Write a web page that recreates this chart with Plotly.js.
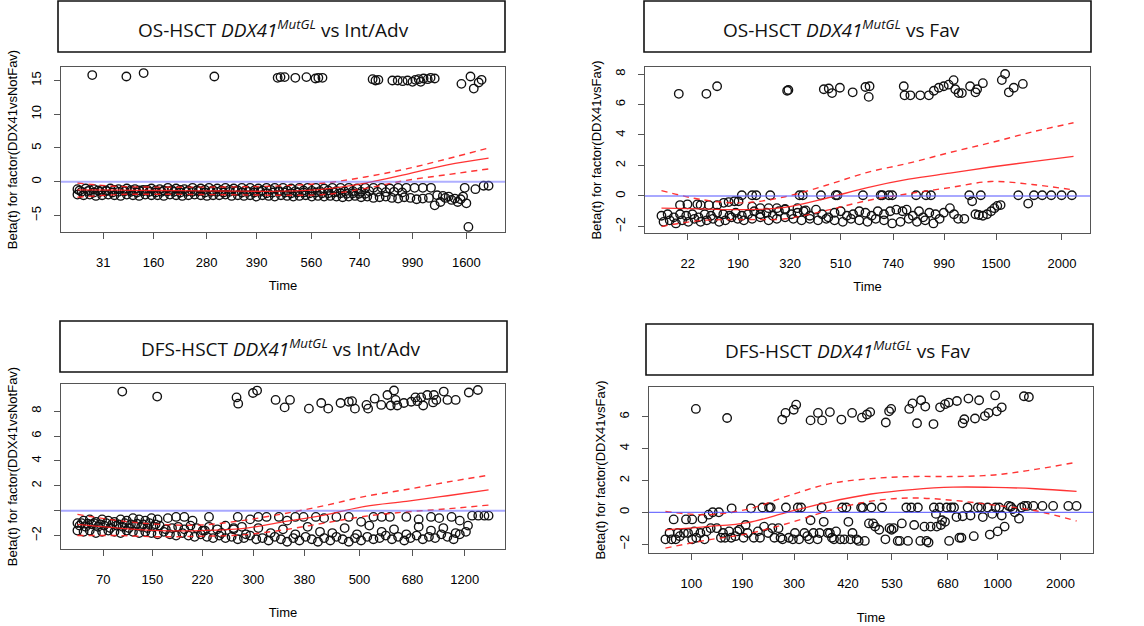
<!DOCTYPE html>
<html><head><meta charset="utf-8">
<script src="https://cdn.plot.ly/plotly-3.0.1.min.js"></script>
<style>html,body{margin:0;padding:0;background:#fff}#chart{width:1144px;height:626px}</style>
</head><body><div id="chart"></div>
<script>
// x values are the transformed (Kaplan-Meier scaled, 0-100) event times used by cox.zph plots
// ---------------- Panel 1: OS-HSCT DDX41 vs Int/Adv ----------------
const p1TickPos = [6.3,18.5,31.4,43.6,56.9,68.6,81.5,94.6];
const p1TickLab = ['31','160','280','390','560','740','990','1600'];
const p1HighT = [3.6,11.9,16.1,33.3,48.7,49.4,50.4,53.0,55.7,57.9,58.6,59.6,71.8,72.5,73.2,76.6,77.9,79.1,80.3,81.5,82.2,83.0,83.5,84.2,85.2,85.9,86.9,93.4,95.6,96.4,97.6,98.3];
const p1HighB = [15.8,15.6,16.1,15.6,15.4,15.5,15.5,15.4,15.5,15.3,15.4,15.4,15.2,15.0,15.1,15.0,15.0,14.9,15.0,14.8,15.1,15.2,14.8,15.3,15.2,15.4,15.3,14.5,15.6,13.8,14.7,15.1];
const p1LowT = [0,2,4,6,8,10,12,14,16,18,20,22,24,26,28,30,32,34,36,38,40,42,44,46,48,50,52,54,56,58,60,62,64,66,68,70,72,74,76,78,80,82,84,86,
 1,2.5,4,5.5,7,8.5,10,11.5,13,14.5,16,17.5,19,20.5,22,23.5,25,26.5,28,29.5,31,32.5,34,35.5,37,38.5,40,41.5,43,44.5,46,47.5,49,50.5,52,53.5,55,56.5,58,59.5,61,62.5,64,65.5,67,68.5,70,
 0,1.5,3,4.5,6,7.5,9,10.5,12,13.5,15,16.5,18,19.5,21,22.5,24,25.5,27,28.5,30,31.5,33,34.5,36,37.5,39,40.5,42,43.5,45,46.5,48,49.5,51,52.5,54,55.5,57,58.5,60,61.5,63,64.5,66,67.5,69,70.5,72,73.5,75,76.5,78,79.5,81,82.5,84,85.5,
 0.5,3,5,7,9,11,13,15,17,19,21,23,25,27,29,31,33,35,37,39,41,43,45,47,49,51,53,55,57,59,61,63,65,67,69,71,73,75,77,79,
 86.9,87.5,88.3,88.9,89.5,90.3,91.0,91.8,92.5,93.2,93.8,94.2,94.6,95.1,96.8,98.8,100];
const p1LowB = [-1.1,-1.0,-1.1,-1.2,-1.0,-1.1,-1.0,-1.1,-1.2,-1.0,-1.1,-0.9,-1.0,-1.1,-0.9,-1.0,-0.9,-1.0,-0.9,-1.0,-0.9,-0.9,-1.0,-0.9,-0.9,-0.9,-1.0,-0.9,-0.9,-0.9,-1.0,-0.9,-0.9,-0.9,-1.0,-0.9,-0.9,-0.9,-1.0,-0.9,-0.9,-0.9,-0.9,-0.9,
 -1.5,-1.4,-1.6,-1.5,-1.4,-1.6,-1.5,-1.4,-1.5,-1.6,-1.4,-1.5,-1.6,-1.5,-1.4,-1.5,-1.6,-1.5,-1.5,-1.4,-1.6,-1.5,-1.5,-1.6,-1.5,-1.4,-1.6,-1.5,-1.6,-1.5,-1.7,-1.6,-1.5,-1.6,-1.7,-1.6,-1.6,-1.7,-1.6,-1.7,-1.7,-1.6,-1.7,-1.8,-1.7,-1.8,-1.8,
 -1.9,-2.0,-1.9,-2.1,-2.0,-1.9,-2.0,-2.1,-1.9,-2.0,-2.1,-1.9,-2.0,-2.0,-2.1,-1.9,-2.0,-2.1,-2.0,-1.9,-2.0,-2.1,-2.0,-2.0,-1.9,-2.1,-2.0,-2.1,-2.0,-2.2,-2.0,-2.1,-2.2,-2.0,-2.1,-2.2,-2.1,-2.0,-2.2,-2.1,-2.2,-2.1,-2.2,-2.3,-2.2,-2.1,-2.3,-2.2,-2.4,-2.3,-2.2,-2.4,-2.5,-2.3,-2.4,-2.6,-2.5,-2.4,
 -1.3,-1.25,-1.3,-1.3,-1.2,-1.3,-1.25,-1.3,-1.2,-1.3,-1.3,-1.25,-1.2,-1.3,-1.3,-1.2,-1.25,-1.3,-1.2,-1.3,-1.25,-1.3,-1.3,-1.2,-1.35,-1.3,-1.4,-1.3,-1.35,-1.4,-1.3,-1.4,-1.45,-1.4,-1.5,-1.4,-1.5,-1.55,-1.5,-1.6,
 -3.5,-2.0,-3.0,-2.1,-2.4,-2.2,-2.7,-2.5,-3.0,-2.6,-2.2,-0.9,-3.2,-6.7,-1.1,-0.6,-0.6];
const fitT = [0,10,20,30,40,50,60,70,80,90,100];
const p1Fit = [-1.2,-1.25,-1.3,-1.35,-1.4,-1.4,-1.1,-0.2,1.1,2.5,3.5];
const p1Up  = [-0.2,-0.7,-0.8,-0.8,-0.75,-0.6,-0.2,0.7,1.9,3.4,5.0];
const p1Lo  = [-2.3,-1.9,-1.85,-1.9,-1.95,-2.0,-1.9,-1.0,0.2,1.05,1.9];

// ---------------- Panel 2: OS-HSCT DDX41 vs Fav ----------------
const p2TickPos = [6.4,18.6,31.2,43.5,56.2,68.6,81.2,97.2];
const p2TickLab = ['22','190','320','510','740','990','1500','2000'];
const p2HighT = [4.2,10.9,13.5,30.5,30.8,39.4,40.6,41.4,43.3,46.4,49.5,50.5,50.3,58.8,59.0,60.4,62.8,64.9,66.1,67.3,68.5,69.7,70.9,71.3,72.1,72.9,74.9,76.2,76.6,78.0,82.6,83.4,84.3,85.5,87.7];
const p2HighB = [6.7,6.7,7.2,6.9,6.95,7.0,7.05,6.75,7.1,6.8,7.15,7.2,6.5,7.2,6.6,6.6,6.6,6.6,6.9,7.1,7.2,7.3,7.6,7.0,6.75,6.75,7.2,6.8,7.0,7.4,7.6,8.0,6.8,7.1,7.35];
const p2LowT = [0,1.5,3,4.5,6,7.5,9,10.5,12,13.5,15,16.5,18,19.5,21,22.5,24,25.5,27,28.5,30,31.5,33,34.5,36,37.5,39,40.5,42,43.5,45,46.5,48,49.5,51,52.5,54,55.5,57,
 0.5,2,3.5,5,6.5,8,9.5,11,12.5,14,15.5,17,18.5,20,22,24,26,28,30,32,34,36,38,40,42,44,46,48,50,52,54,56,58,60,62,64,66,
 58.5,59.5,61,62.5,63.5,65,66.5,67.5,68.5,70,71,72,73.5,
 75.4,76.2,77,78,79,80,80.8,81.5,82.3,89,
 4.5,6.3,8.7,9.5,11.5,13.5,15.1,16.3,17.7,18.7,22,24,26,28,30,33,35,
 19.5,22,23,26.4,33.5,34.3,38.7,42.3,42.7,48.9,53.2,53.6,55.2,56,61.8,64.2,65.4,74.7,77.5,86.6,90.4,92.4,94.6,97.1,99.6];
const p2LowB = [-1.3,-1.2,-1.4,-1.2,-1.3,-1.2,-1.4,-1.2,-1.3,-1.1,-1.2,-1.3,-1.1,-1.3,-1.2,-1.0,-1.2,-1.1,-1.3,-1.0,-0.9,-1.2,-1.1,-1.0,-1.3,-0.9,-1.2,-1.4,-1.1,-1.0,-1.3,-1.2,-1.0,-1.1,-1.3,-1.0,-1.2,-1.0,-0.9,
 -1.7,-1.6,-1.8,-1.6,-1.7,-1.5,-1.7,-1.6,-1.5,-1.7,-1.6,-1.4,-1.5,-1.6,-1.5,-1.4,-1.6,-1.5,-1.4,-1.5,-1.6,-1.5,-1.6,-1.5,-1.6,-1.7,-1.5,-1.6,-1.7,-1.5,-1.6,-1.8,-1.7,-1.5,-1.7,-1.6,-1.8,
 -1.0,-0.9,-1.3,-1.0,-1.4,-1.1,-1.2,-1.5,-1.1,-0.8,-1.2,-1.5,-1.5,
 -0.35,-1.2,-1.25,-1.3,-1.2,-1.0,-0.8,-0.65,-0.6,-0.5,
 -0.6,-0.55,-0.55,-0.6,-0.6,-0.6,-0.45,-0.4,-0.35,-0.35,-0.7,-0.8,-0.8,-0.8,-0.85,-0.8,-0.95,
 0.05,0.05,0.05,0.05,0.05,0.05,0.05,0.05,0.05,0.05,0.05,0.05,0.05,0.05,0.05,0.05,0.05,0.05,0.05,0.05,0.05,0.05,0.05,0.05,0.05];
const p2Fit = [-0.8,-0.85,-0.9,-0.75,-0.15,0.55,1.1,1.5,1.9,2.25,2.6];
const p2Up  = [0.35,-0.25,-0.45,-0.05,0.7,1.55,2.15,2.85,3.5,4.2,4.8];
const p2Lo  = [-2.0,-1.6,-1.55,-1.5,-0.95,-0.3,0.15,0.55,0.95,0.75,0.4];

// ---------------- Panel 3: DFS-HSCT DDX41 vs Int/Adv ----------------
const p3TickPos = [6.3,18.2,30.4,42.8,55.2,68.6,81.5,94.2];
const p3TickLab = ['70','150','220','300','380','500','680','1200'];
const p3HighT = [10.9,19.4,38.7,39.1,42.7,43.7,48.2,50.4,51.7,56.3,59.3,61.0,64.0,66.0,66.8,67.5,70.3,70.7,72.3,73.9,75.4,76.2,77.0,77.4,77.8,79.4,81.2,82.2,82.7,83.6,84.1,85.1,86.5,86.7,87.3,89.1,90.0,92.0,95.2,97.4];
const p3HighB = [9.57,9.17,9.1,8.6,9.46,9.65,8.9,8.3,8.9,8.2,8.65,8.2,8.65,8.75,8.8,8.2,8.5,8.2,9.0,8.5,9.3,8.45,9.66,8.9,8.45,8.65,8.75,9.1,8.8,9.1,8.45,9.3,8.7,9.3,8.9,9.57,8.9,8.9,9.5,9.7];
const p3LowT = [0,1.5,3,4.5,6,7.5,9,10.5,12,13.5,15,16.5,18,19.5,
 22,24,26,28,32,39,42,44,46,49,51,53,55,58,60,63,66,69,72,74,76,80,83,86,88,91,93,96,97.5,99,100,
 0.5,2,3.5,5,6.5,8,9.5,11,12.5,14,15.5,17,18.5,20,21.5,23,24.5,26,27.5,29,30.5,32,34,36,38,40,
 0,1.5,3,4.5,6,7.5,9,10.5,12,13.5,15,16.5,18,19.5,21,22.5,24,25.5,27,28.5,30,31.5,33,34.5,36,37.5,39,40.5,42,43.5,45,46.5,48,49.5,51,52.5,54,55.5,57,58.5,60,61.5,63,64.5,66,67.5,69,70.5,72,73.5,75,76.5,78,79.5,81,82.5,84,85.5,87,88.5,90,91.5,93,94.5,
 31,35,38,41,44,47,50,53,56,59,62,65,68,71,74,77,80,83,86,89,92,95,
 1,2.5,4,5.5,7,8.5,10,11.5,13,14.5,16,17.5,19];
const p3LowB = [-1.0,-0.8,-0.7,-0.9,-0.7,-0.8,-0.9,-0.7,-0.8,-0.6,-0.7,-0.8,-0.6,-0.7,
 -0.6,-0.5,-0.5,-0.8,-0.5,-0.5,-0.7,-0.5,-0.5,-0.5,-0.8,-0.5,-0.5,-0.5,-0.6,-0.5,-0.5,-0.9,-0.5,-0.5,-0.5,-0.5,-0.7,-0.5,-0.6,-0.5,-0.8,-0.4,-0.4,-0.4,-0.4,
 -1.2,-1.3,-1.1,-1.3,-1.2,-1.4,-1.2,-1.3,-1.4,-1.2,-1.3,-1.4,-1.3,-1.2,-1.5,-1.4,-1.3,-1.5,-1.2,-1.4,-1.6,-1.3,-1.5,-1.2,-1.4,-1.3,
 -1.6,-1.7,-1.6,-1.8,-1.7,-1.6,-1.7,-1.8,-1.6,-1.7,-1.8,-1.7,-1.8,-1.9,-1.7,-1.9,-2.0,-1.8,-2.0,-2.1,-1.9,-2.1,-2.2,-2.0,-2.2,-2.1,-2.3,-2.2,-2.0,-2.3,-2.2,-2.4,-2.1,-2.3,-2.5,-2.2,-2.4,-2.1,-2.3,-2.5,-2.2,-2.4,-2.1,-2.3,-2.5,-2.2,-2.4,-2.1,-2.3,-2.2,-2.0,-2.3,-2.1,-2.4,-2.2,-2.0,-2.3,-2.1,-2.2,-1.9,-2.1,-2.3,-1.9,-1.7,
 -1.6,-1.8,-1.5,-1.9,-1.4,-1.8,-1.5,-1.9,-1.3,-1.7,-1.8,-1.4,-1.9,-1.2,-1.7,-1.5,-1.9,-1.3,-1.6,-1.4,-1.8,-1.2,
 -1.0,-1.05,-1.0,-1.1,-1.0,-1.05,-1.1,-1.0,-1.1,-1.05,-1.1,-1.0,-1.1];
const p3Fit = [-1.1,-1.4,-1.6,-1.6,-1.45,-0.9,-0.35,0.35,0.75,1.2,1.67];
const p3Up  = [-0.3,-0.8,-1.1,-1.15,-0.8,-0.25,0.4,1.15,1.7,2.3,2.85];
const p3Lo  = [-2.0,-2.0,-2.1,-2.05,-1.95,-1.55,-1.0,-0.45,-0.1,0.15,0.45];

// ---------------- Panel 4: DFS-HSCT DDX41 vs Fav ----------------
const p4TickPos = [6.3,18.7,31.3,44.4,55.1,68.7,80.8,96.1];
const p4TickLab = ['100','190','300','420','530','680','1000','2000'];
const p4HighT = [7.4,15.0,28.4,29.2,31.2,31.8,35.3,37.1,38.1,40.0,42.8,45.4,47.8,49.0,49.8,53.6,54.4,54.9,59.3,60.1,61.2,62.2,63.2,65.2,66.8,68.0,68.9,70.9,72.3,72.7,73.7,75.3,76.3,77.7,78.6,80.2,80.6,81.8,87.2,88.4];
const p4HighB = [6.5,5.93,5.83,6.25,6.45,6.77,5.78,6.25,5.78,6.3,5.83,6.25,5.95,6.15,6.3,5.65,6.35,6.5,6.5,6.85,5.6,7.05,6.65,5.55,6.6,6.8,6.9,7.0,5.6,5.85,7.15,5.9,7.05,6.05,6.25,7.35,6.35,6.6,7.3,7.25];
const p4LowT = [0,1.5,2.5,3.5,4.5,5.5,6.5,7.5,8.5,9.5,10,2,5,6.5,9,10.5,11.5,12.5,13,14,14.5,15.5,16.1,17,18,19,19.5,20.8,21.5,22.5,23.6,24,25.2,25.6,26.5,27.5,28.5,29.3,30,31,32.2,33,33.8,34.5,35.3,36,37,38,38.5,39.5,40.5,41.5,42.5,43,44,44.5,45.5,46.5,47.6,48,48.5,49.5,50.1,51,52,52.7,53.5,54.5,55.5,56.5,57.5,58.6,59.8,60.5,61.4,62,63,64,64.5,65.3,65.8,66.7,67.3,68.4,69,69.5,70.2,70.8,71.5,72.3,73.5,74.2,75,76,76.8,77.2,78.4,78.9,79.5,80.3,80.8,81.2,81.8,82.5,83.5,84,84.5,85,86,86.6,87.3,88,89.5,91.7,94.3,98,100,
 1,3,7,11,13.5,16,17.5,20,23,25,26,28,31.5,32.5,35,37.5,40,41,43.5,45,47,50.5,55,57,59,63.5,66,67,68,72];
const p4LowB = [-1.7,-1.7,-1.7,-1.5,-1.3,-1.3,-1.7,-1.6,-1.3,-1.7,-1.2,-0.45,-0.45,-0.45,-0.4,-0.15,0.0,-1.0,0.0,-1.3,-1.6,-1.2,0.25,-1.5,-1.1,-1.6,-0.8,0.25,-1.6,-1.2,0.3,-0.9,0.3,0.3,-1.6,-1.0,-1.7,0.3,-1.6,-1.7,0.3,0.3,-1.3,-1.5,-0.5,-1.3,-1.7,0.3,-0.6,-1.3,-1.6,-1.2,-1.7,0.3,0.3,-0.6,-1.3,-1.7,0.3,0.3,-1.8,-0.7,0.3,-0.9,-1.1,0.3,-1.7,-1.0,-1.0,-1.8,-0.7,0.3,0.3,-0.8,0.3,-1.8,-0.9,-1.9,-0.9,0.3,-0.1,0.3,-0.5,0.3,-1.8,0.3,0.3,-0.3,-1.6,-0.25,0.3,-0.2,-1.5,0.3,0.3,-0.3,0.3,-1.4,-0.1,0.3,-1.2,0.3,-0.2,-0.9,0.4,0.35,0.2,0.0,-0.4,0.3,0.4,0.4,0.4,0.4,0.4,0.4,0.4,
 -1.3,-1.3,-1.2,-1.0,-1.6,-1.6,-1.2,-1.3,-1.6,-1.3,-1.0,-1.6,-1.3,-1.7,-1.7,-1.3,-1.3,-1.7,-1.7,-1.7,-1.8,-0.7,-1.1,-1.8,-1.8,-1.8,-0.9,-0.8,-0.6,-1.6];
const p4Fit = [-1.1,-0.9,-0.65,0.03,0.66,1.15,1.43,1.58,1.57,1.48,1.32];
const p4Up  = [0.05,-0.15,0.2,1.05,1.8,2.12,2.25,2.25,2.35,2.7,3.15];
const p4Lo  = [-2.25,-1.75,-1.35,-0.68,0.12,0.7,0.9,0.75,0.45,0.1,-0.55];

// ---------------- layout helpers ----------------
const W = 1144, H = 626;
const fx = v => v / W, fy = v => 1 - v / H;
const axFont = {family: 'Liberation Sans, Arial, sans-serif', size: 13, color: '#000'};

const panels = [
  {title: 'OS-HSCT <i>DDX41</i><sup><i>MutGL</i></sup> vs Int/Adv', yTitle: 'Beta(t) for factor(DDX41vsNotFav)',
   hT: p1HighT, hB: p1HighB, lT: p1LowT, lB: p1LowB, fit: p1Fit, up: p1Up, lo: p1Lo,
   tickPos: p1TickPos, tickLab: p1TickLab, yTicks: [-5,0,5,10,15], yLabs: ['−5','0','5','10','15'],
   yRange: [-7.45, 17.0], box: [61,505,67,232], tbox: [58,505,1,52], tc: [273,29], xStand: 12,
   blue: ['rgba(110,110,255,0.55)', 2]},
  {title: 'OS-HSCT <i>DDX41</i><sup><i>MutGL</i></sup> vs Fav', yTitle: 'Beta(t) for factor(DDX41vsFav)',
   hT: p2HighT, hB: p2HighB, lT: p2LowT, lB: p2LowB, fit: p2Fit, up: p2Up, lo: p2Lo,
   tickPos: p2TickPos, tickLab: p2TickLab, yTicks: [-2,0,2,4,6,8], yLabs: ['−2','0','2','4','6','8'],
   yRange: [-2.43, 8.46], box: [645,1090,67,233], tbox: [644,1091,1,52], tc: [841,29], xStand: 12,
   blue: ['rgba(110,110,255,0.6)', 2]},
  {title: 'DFS-HSCT <i>DDX41</i><sup><i>MutGL</i></sup> vs Int/Adv', yTitle: 'Beta(t) for factor(DDX41vsNotFav)',
   hT: p3HighT, hB: p3HighB, lT: p3LowT, lB: p3LowB, fit: p3Fit, up: p3Up, lo: p3Lo,
   tickPos: p3TickPos, tickLab: p3TickLab, yTicks: [-2,2,4,6,8], yLabs: ['−2','2','4','6','8'], zeroTick: true,
   yRange: [-3.08, 10.18], box: [61,505,384,549], tbox: [60,507,321,372], tc: [281,348], xStand: 22,
   blue: ['rgba(110,110,255,0.6)', 2]},
  {title: 'DFS-HSCT <i>DDX41</i><sup><i>MutGL</i></sup> vs Fav', yTitle: 'Beta(t) for factor(DDX41vsFav)',
   hT: p4HighT, hB: p4HighB, lT: p4LowT, lB: p4LowB, fit: p4Fit, up: p4Up, lo: p4Lo,
   tickPos: p4TickPos, tickLab: p4TickLab, yTicks: [-2,0,2,4,6], yLabs: ['−2','0','2','4','6'],
   yRange: [-2.56, 7.88], box: [649,1093,387,553], tbox: [646,1093,324,375], tc: [848,350], xStand: 23,
   blue: ['rgba(80,80,255,0.8)', 1.2]}
];

const data = [];
const layout = {
  width: W, height: H, margin: {l:0, r:0, t:0, b:0},
  paper_bgcolor: '#fff', plot_bgcolor: '#fff', showlegend: false,
  shapes: [], annotations: []
};

panels.forEach((p, i) => {
  const n = i === 0 ? '' : String(i + 1);
  const xa = 'x' + n, ya = 'y' + n;
  data.push({
    type: 'scatter', mode: 'markers', xaxis: xa, yaxis: ya,
    x: p.hT.concat(p.lT), y: p.hB.concat(p.lB),
    marker: {symbol: 'circle-open', size: 8.5, color: '#111', line: {width: 1.35, color: '#111'}},
    hoverinfo: 'x+y'
  });
  const red = 'rgba(255,30,30,0.9)';
  data.push({type:'scatter', mode:'lines', xaxis: xa, yaxis: ya, x: fitT, y: p.fit,
    line: {color: red, width: 1.3, shape: 'spline', smoothing: 1}});
  data.push({type:'scatter', mode:'lines', xaxis: xa, yaxis: ya, x: fitT, y: p.up,
    line: {color: red, width: 1.4, dash: '6px,5px', shape: 'spline', smoothing: 1}});
  data.push({type:'scatter', mode:'lines', xaxis: xa, yaxis: ya, x: fitT, y: p.lo,
    line: {color: red, width: 1.4, dash: '6px,5px', shape: 'spline', smoothing: 1}});

  const [x0, x1, y0, y1] = p.box;
  layout['xaxis' + n] = {
    domain: [fx(x0), fx(x1)], anchor: ya, range: [-4, 104],
    showgrid: false, zeroline: false, showline: true, mirror: true,
    linecolor: '#555', linewidth: 1.3, ticks: 'outside', ticklen: 6, tickcolor: '#555', tickwidth: 1,
    tickmode: 'array', tickvals: p.tickPos, ticktext: p.tickLab,
    ticklabelstandoff: 12, tickfont: axFont,
    title: {text: 'Time', font: axFont, standoff: p.xStand}
  };
  const yax = {
    domain: [fy(y1), fy(y0)], anchor: xa, range: p.yRange,
    showgrid: false, zeroline: false, showline: true, mirror: true,
    linecolor: '#555', linewidth: 1.3, ticks: 'outside', ticklen: 6, tickcolor: '#555', tickwidth: 1,
    tickmode: 'array', tickvals: p.yTicks, ticktext: p.yLabs, tickangle: -90,
    ticklabelstandoff: 8, tickfont: axFont,
    title: {text: p.yTitle, font: axFont, standoff: 8}
  };
  if (p.zeroTick) {
    // the 0 tick is drawn but its label is dropped (overlap), as in the original
    yax.minor = {ticks: 'outside', tick0: 0, dtick: 20, ticklen: 6, tickcolor: '#555', tickwidth: 1, showgrid: false};
  }
  layout['yaxis' + n] = yax;
  layout.shapes.push({type: 'line', xref: xa + ' domain', yref: ya, x0: 0, x1: 1, y0: 0, y1: 0,
    line: {color: p.blue[0], width: p.blue[1]}, layer: 'above'});
  const [a0, a1, b0, b1] = p.tbox;
  layout.shapes.push({type: 'rect', xref: 'paper', yref: 'paper', x0: fx(a0), x1: fx(a1), y0: fy(b1), y1: fy(b0),
    line: {color: '#111', width: 1.6}, fillcolor: 'rgba(0,0,0,0)'});
  layout.annotations.push({xref: 'paper', yref: 'paper', x: fx(p.tc[0]), y: fy(p.tc[1]),
    xanchor: 'center', yanchor: 'middle', showarrow: false, text: p.title,
    font: {family: 'Open Sans, Noto Sans, sans-serif', size: 19, color: '#111'}});
});

Plotly.newPlot('chart', data, layout, {staticPlot: true, displayModeBar: false});
</script>
</body></html>
